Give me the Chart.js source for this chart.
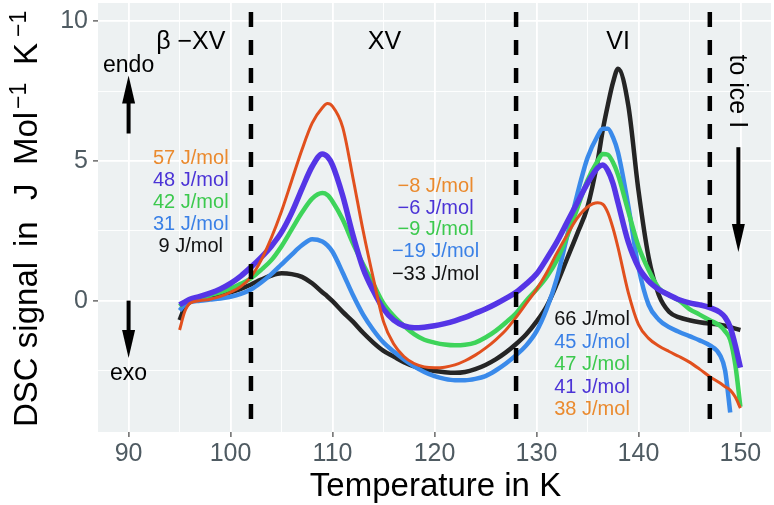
<!DOCTYPE html>
<html><head><meta charset="utf-8">
<script src="https://cdn.jsdelivr.net/npm/chart.js@4.4.0/dist/chart.umd.min.js"></script>
<style>html,body{margin:0;padding:0;background:#fff;}canvas{display:block;}</style>
</head><body>
<canvas id="c" width="774" height="505"></canvas>
<script>
// ---- data ----
const temperature = [95,95.5,96,97,98,99,100,101,102,103,104,105,106,107,108,109,109.5,110,111,112,113,114,115,116,117,118,119,120,121,122,123,124,125,126,127,128,129,130,131,132,133,134,135,136,136.5,137,137.5,138,139,140,141,142,143,144,145,146,147,148,148.5,149,149.5,150];
const dscOrange = [-1.05,-0.4,-0.1,0.0,0.05,0.15,0.3,0.5,0.85,1.45,2.25,3.2,4.3,5.4,6.35,6.9,7.05,6.95,6.2,4.4,2.5,0.8,-0.75,-1.55,-2.0,-2.25,-2.37,-2.4,-2.38,-2.3,-2.15,-1.95,-1.7,-1.4,-1.05,-0.6,-0.1,0.4,1.0,1.7,2.35,2.95,3.35,3.5,3.45,3.15,2.6,1.9,0.3,-0.85,-1.35,-1.62,-1.82,-2.0,-2.2,-2.45,-2.72,-2.95,-3.08,-3.2,-3.45,-3.85];
const dscPurple = [-0.15,-0.05,0.05,0.15,0.27,0.42,0.62,0.88,1.2,1.55,1.95,2.45,3.15,4.0,4.8,5.25,5.15,4.85,3.75,2.35,1.15,0.35,-0.3,-0.7,-0.9,-0.97,-0.95,-0.9,-0.82,-0.72,-0.6,-0.45,-0.3,-0.12,0.08,0.3,0.6,0.95,1.5,2.1,2.8,3.5,4.2,4.75,4.85,4.65,4.2,3.5,2.1,1.2,0.7,0.4,0.2,0.03,-0.08,-0.15,-0.25,-0.42,-0.6,-0.95,-1.6,-2.4];
const dscGreen = [-0.2,-0.05,0.0,0.1,0.2,0.3,0.43,0.6,0.8,1.1,1.45,1.95,2.55,3.15,3.65,3.85,3.78,3.55,2.9,2.05,1.3,0.6,-0.1,-0.55,-0.9,-1.2,-1.4,-1.5,-1.57,-1.6,-1.58,-1.5,-1.32,-1.08,-0.78,-0.45,0.0,0.4,0.85,1.45,2.3,3.3,4.3,5.0,5.25,5.22,4.95,4.5,3.2,1.95,1.1,0.45,0.2,0.0,-0.3,-0.5,-0.7,-0.9,-1.1,-1.4,-2.3,-3.8];
const dscBlue = [-0.35,-0.15,-0.05,0.0,0.04,0.08,0.14,0.24,0.4,0.65,0.95,1.3,1.65,1.98,2.2,2.12,1.98,1.75,1.0,0.2,-0.5,-1.05,-1.5,-1.82,-2.1,-2.35,-2.55,-2.7,-2.8,-2.85,-2.85,-2.8,-2.7,-2.5,-2.25,-1.95,-1.6,-1.1,-0.3,0.8,2.3,3.8,5.1,5.9,6.15,6.15,5.85,5.3,3.4,1.2,-0.15,-0.68,-0.95,-1.12,-1.27,-1.42,-1.6,-1.95,-2.5,-4.0,null,null];
const dscBlack = [-0.7,-0.25,-0.05,0.05,0.12,0.2,0.3,0.42,0.58,0.75,0.9,0.98,0.95,0.85,0.62,0.3,0.15,-0.02,-0.4,-0.75,-1.15,-1.5,-1.8,-2.0,-2.2,-2.35,-2.45,-2.52,-2.56,-2.58,-2.55,-2.45,-2.3,-2.1,-1.85,-1.55,-1.2,-0.75,-0.2,0.6,1.5,2.4,3.35,5.0,6.1,7.0,7.8,8.3,7.0,3.95,1.55,0.2,-0.4,-0.6,-0.7,-0.77,-0.82,-0.86,-0.9,-0.95,-1.0,-1.05];

const xMajorTicks = [90,100,110,120,130,140,150];
const xMinorTicks = [95,105,115,125,135,145];
const yMajorTicks = [0,5,10];
const yMinorTicks = [-2.5,2.5,7.5];
const phaseBoundaries = [102,128,147];
const phaseNames = ['β −XV','XV','VI'];
const enthalpyBetaXV = ['57 J/mol','48 J/mol','42 J/mol','31 J/mol','9 J/mol'];
const enthalpyXV = ['−8 J/mol','−6 J/mol','−9 J/mol','−19 J/mol','−33 J/mol'];
const enthalpyVI = ['66 J/mol','45 J/mol','47 J/mol','41 J/mol','38 J/mol'];

// ---- styling ----
const FONT = '"Liberation Sans", Arial, Helvetica, sans-serif';
const LINE = {orange:'#E1501E', purple:'#5535E6', green:'#3ED45A', blue:'#3A8AEA', black:'#252525'};
const TEXT = {orange:'#EA8A2E', purple:'#4B33D6', green:'#3CC94E', blue:'#3A80E6', black:'#111111'};
Chart.defaults.font.family = FONT;

const pts = arr => temperature.map((t,i)=>({x:t, y:arr[i]}));
const isMajorX = v => xMajorTicks.includes(v);
const isMajorY = v => yMajorTicks.includes(v);

const panelBg = {
  id:'panelBg',
  beforeDraw(chart){
    const {ctx, chartArea:a} = chart;
    ctx.save(); ctx.fillStyle = '#EDF1F2';
    ctx.fillRect(a.left, a.top, a.right-a.left, a.bottom-a.top); ctx.restore();
  }
};

const annotations = {
  id:'annotations',
  afterDatasetsDraw(chart){
    const {ctx, chartArea:a, scales:{x, y}} = chart;
    const X = v => x.getPixelForValue(v), Y = v => y.getPixelForValue(v);
    ctx.save();
    // phase boundaries
    ctx.strokeStyle = '#000'; ctx.lineWidth = 4.5; ctx.setLineDash([15,13]);
    phaseBoundaries.forEach(b => { ctx.beginPath(); ctx.moveTo(X(b), a.top+9); ctx.lineTo(X(b), a.bottom); ctx.stroke(); });
    ctx.setLineDash([]);
    const txt = (s, xv, yv, size, color, align) => {
      ctx.font = size + 'px ' + FONT; ctx.fillStyle = color; ctx.textAlign = align || 'center';
      ctx.textBaseline = 'alphabetic'; ctx.fillText(s, X(xv), Y(yv));
    };
    // phase names
    txt(phaseNames[0], 96.1, 9.0, 25, '#000');
    txt(phaseNames[1], 115.1, 9.0, 25, '#000');
    txt(phaseNames[2], 138.0, 9.0, 25, '#000');
    // enthalpy labels
    const cols = [TEXT.orange, TEXT.purple, TEXT.green, TEXT.blue, TEXT.black];
    const colsVI = [TEXT.black, TEXT.blue, TEXT.green, TEXT.purple, TEXT.orange];
    const yb1 = [4.875,4.09,3.30,2.52,1.73];
    const yb2 = [3.875,3.09,2.34,1.55,0.73];
    const yb3 = [-0.875,-1.70,-2.48,-3.30,-4.09];
    enthalpyBetaXV.forEach((s,i)=>txt(s, 96.1, yb1[i], 20, cols[i]));
    enthalpyXV.forEach((s,i)=>txt(s, 120.1, yb2[i], 20, cols[i]));
    enthalpyVI.forEach((s,i)=>txt(s, 135.45, yb3[i], 20, colsVI[i]));
    // endo / exo
    txt('endo', 90, 8.17, 23, '#000');
    txt('exo', 90, -2.83, 23, '#000');
    const arrow = (x0,y0,x1,y1) => {
      const ang = Math.atan2(y1-y0, x1-x0), hl = 28, hw = 6.5;
      const c = Math.cos(ang), s = Math.sin(ang);
      ctx.strokeStyle = '#000'; ctx.fillStyle = '#000'; ctx.lineWidth = 4;
      ctx.beginPath(); ctx.moveTo(x0,y0); ctx.lineTo(x1 - hl*c*0.8, y1 - hl*s*0.8); ctx.stroke();
      ctx.beginPath(); ctx.moveTo(x1,y1);
      ctx.lineTo(x1 - hl*c - hw*s, y1 - hl*s + hw*c);
      ctx.lineTo(x1 - hl*c + hw*s, y1 - hl*s - hw*c);
      ctx.closePath(); ctx.fill();
    };
    arrow(X(90), Y(5.98), X(90), Y(8.06));
    arrow(X(90), Y(0), X(90), Y(-2.05));
    arrow(X(149.8), Y(5.49), X(149.8), Y(1.74));
    // to ice I (rotated)
    ctx.save();
    ctx.translate(X(150.0) - 10, Y(7.49));
    ctx.rotate(Math.PI/2);
    ctx.font = '25px ' + FONT; ctx.fillStyle = '#000'; ctx.textAlign = 'center'; ctx.textBaseline = 'alphabetic';
    ctx.fillText('to ice I', 0, 0);
    ctx.restore();
    ctx.restore();
  },
  afterDraw(chart){
    const {ctx, chartArea:a} = chart;
    ctx.save();
    ctx.fillStyle = '#000'; ctx.textBaseline = 'alphabetic';
    // x title
    ctx.font = '33px ' + FONT; ctx.textAlign = 'center';
    ctx.fillText('Temperature in K', (a.left+a.right)/2 + 1, 496);
    // y title with superscripts
    ctx.translate(37, 427); ctx.rotate(-Math.PI/2); ctx.textAlign = 'left';
    const big = '33px ' + FONT, sup = '23px ' + FONT;
    const segs = [['DSC signal',0,big,0],['in',180,big,0],['J',227,big,0],['Mol',262,big,0],['−1',318,sup,-11],['K',362,big,0],['−1',390,sup,-11]];
    segs.forEach(([s,off,f,dy]) => { ctx.font = f; ctx.fillText(s, off, dy); });
    ctx.restore();
  }
};

const mk = (data, color, w) => ({data: pts(data), borderColor: color, borderWidth: w, pointRadius: 0, fill: false, cubicInterpolationMode: 'monotone', spanGaps: false});

new Chart(document.getElementById('c'), {
  type: 'line',
  data: { datasets: [
    mk(dscOrange, LINE.orange, 3),
    mk(dscPurple, LINE.purple, 5.5),
    mk(dscGreen, LINE.green, 4.5),
    mk(dscBlue, LINE.blue, 4.5),
    mk(dscBlack, LINE.black, 4.5)
  ]},
  options: {
    responsive: false, animation: false, devicePixelRatio: 1,
    layout: {padding: {left: 0, top: 3, right: 3, bottom: 0}},
    plugins: {legend: {display: false}, tooltip: {enabled: false}},
    scales: {
      x: {
        type: 'linear', min: 87, max: 153,
        afterBuildTicks: s => { s.ticks = xMajorTicks.concat(xMinorTicks).sort((p,q)=>p-q).map(v=>({value:v})); },
        afterFit: s => { s.height = 73; s.paddingLeft = 0; s.paddingRight = 0; },
        border: {display: false},
        grid: {
          color: '#ffffff',
          lineWidth: c => (c.tick && isMajorX(c.tick.value)) ? 1.8 : 0.9,
          tickColor: c => (c.tick && isMajorX(c.tick.value)) ? '#444' : 'rgba(0,0,0,0)',
          tickLength: 5, tickWidth: 1.2
        },
        ticks: {autoSkip: false, maxRotation: 0, padding: 2, color: '#4F5B62', font: {size: 25},
          callback: v => isMajorX(v) ? String(v) : ''}
      },
      y: {
        type: 'linear', min: -4.7, max: 10.65,
        afterBuildTicks: s => { s.ticks = yMajorTicks.concat(yMinorTicks).sort((p,q)=>p-q).map(v=>({value:v})); },
        afterFit: s => { s.width = 98; s.paddingTop = 0; s.paddingBottom = 0; },
        border: {display: false},
        grid: {
          color: '#ffffff',
          lineWidth: c => (c.tick && isMajorY(c.tick.value)) ? 1.8 : 0.9,
          tickColor: c => (c.tick && isMajorY(c.tick.value)) ? '#444' : 'rgba(0,0,0,0)',
          tickLength: 5, tickWidth: 1.2
        },
        ticks: {autoSkip: false, padding: 5, color: '#4F5B62', font: {size: 25},
          callback: v => isMajorY(v) ? String(v) : ''}
      }
    }
  },
  plugins: [panelBg, annotations]
});
</script>
</body></html>
